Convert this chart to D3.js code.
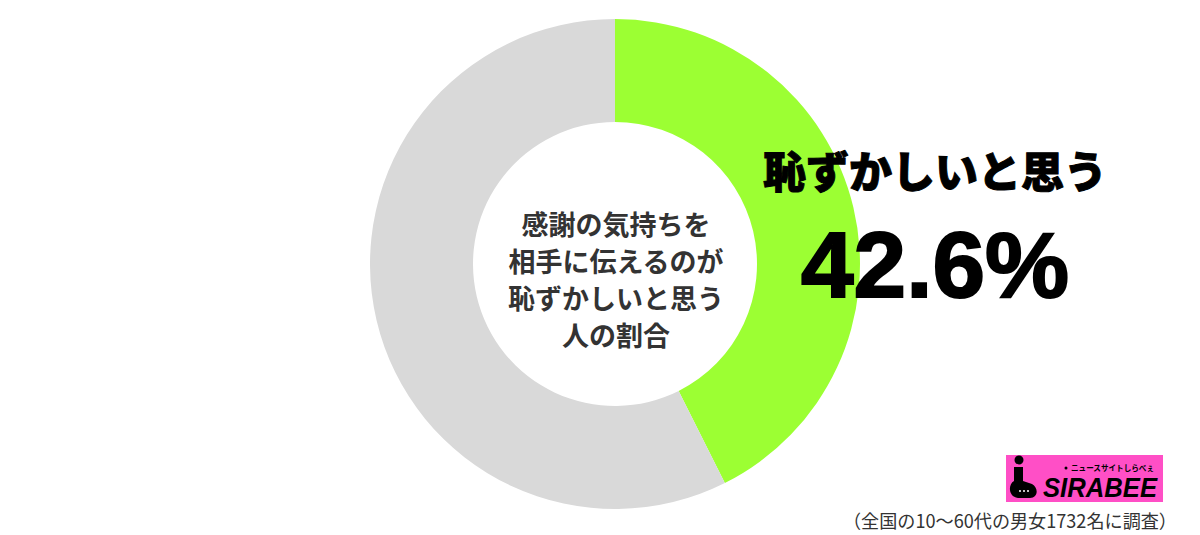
<!DOCTYPE html>
<html><head><meta charset="utf-8">
<script src="https://cdn.jsdelivr.net/npm/d3@7"></script>
<style>html,body{margin:0;padding:0;background:#fff;}svg{display:block;}</style>
</head><body>
<svg id="chart" width="1200" height="535"></svg>
<script>
const categories = ["恥ずかしいと思う", "思わない"];
const values = [42.6, 57.4];
const colors = ["#9cff33", "#d9d9d9"];
const centerLines = ["感謝の気持ちを", "相手に伝えるのが", "恥ずかしいと思う", "人の割合"];
const headline = "恥ずかしいと思う";
const headlineValue = "42.6%";
const note = "（全国の10〜60代の男女1732名に調査）";

const svg = d3.select("#chart");
const cx = 615, cy = 264, outerR = 245, innerR = 142;
const jp = "'Noto Sans CJK JP', 'Noto Sans', sans-serif";

const pie = d3.pie().sort(null).value(d => d)(values);
const arc = d3.arc().innerRadius(innerR).outerRadius(outerR);
const g = svg.append("g").attr("transform", `translate(${cx},${cy})`);
g.selectAll("path").data(pie).enter().append("path")
  .attr("d", arc).attr("fill", (d, i) => colors[i]);

const ys = [223, 260, 297, 334];
svg.append("g").selectAll("text").data(centerLines).enter().append("text")
  .attr("x", 616).attr("y", (d, i) => ys[i])
  .attr("text-anchor", "middle").attr("dominant-baseline", "central")
  .attr("font-family", jp).attr("font-weight", 700).attr("font-size", 27)
  .attr("fill", "#333").text(d => d);

svg.append("text").attr("x", 935).attr("y", 169)
  .attr("text-anchor", "middle").attr("dominant-baseline", "central")
  .attr("font-family", jp).attr("font-weight", 900).attr("font-size", 43)
  .attr("fill", "#000").attr("stroke", "#000").attr("stroke-width", 1)
  .text(headline);

svg.append("text").attr("x", 935).attr("y", 297)
  .attr("text-anchor", "middle")
  .attr("font-family", "'Liberation Sans', Arial, sans-serif").attr("font-weight", 900).attr("font-size", 93)
  .attr("fill", "#000").attr("stroke", "#000").attr("stroke-width", 2)
  .attr("textLength", 268).attr("lengthAdjust", "spacingAndGlyphs")
  .text(headlineValue);

// logo
const logo = svg.append("g");
logo.append("rect").attr("x", 1006).attr("y", 455).attr("width", 157).attr("height", 47).attr("fill", "#ff4fc6");
logo.append("circle").attr("cx", 1019).attr("cy", 460).attr("r", 4.5).attr("fill", "#000");
logo.append("path")
  .attr("d", "M1014,467 L1014,481 C1008,484 1008,497 1018,498 L1030,498 C1038,498 1039,488 1032,484 L1023,481 L1023,467 Z")
  .attr("fill", "#000");
logo.selectAll("circle.d").data([0,1,2]).enter().append("circle")
  .attr("cx", (d) => 1020 + d * 4).attr("cy", 491).attr("r", 1).attr("fill", "#fff");
logo.append("text").attr("x", 1043).attr("y", 497)
  .attr("font-family", "'Liberation Sans', Arial, sans-serif").attr("font-weight", 700).attr("font-style", "italic")
  .attr("font-size", 28).attr("textLength", 114).attr("lengthAdjust", "spacingAndGlyphs")
  .attr("fill", "#000").text("SIRABEE");
logo.append("circle").attr("cx", 1066).attr("cy", 468).attr("r", 1.5).attr("fill", "#000");
logo.append("text").attr("x", 1071).attr("y", 467)
  .attr("dominant-baseline", "central")
  .attr("font-family", jp).attr("font-weight", 700).attr("font-size", 8)
  .attr("textLength", 83).attr("lengthAdjust", "spacingAndGlyphs")
  .attr("fill", "#000").text("ニュースサイトしらべぇ");

svg.append("text").attr("x", 1177).attr("y", 520)
  .attr("text-anchor", "end").attr("dominant-baseline", "central")
  .attr("font-family", jp).attr("font-size", 18.5).attr("fill", "#333")
  .attr("textLength", 334).attr("lengthAdjust", "spacingAndGlyphs")
  .text(note);
</script>
</body></html>
